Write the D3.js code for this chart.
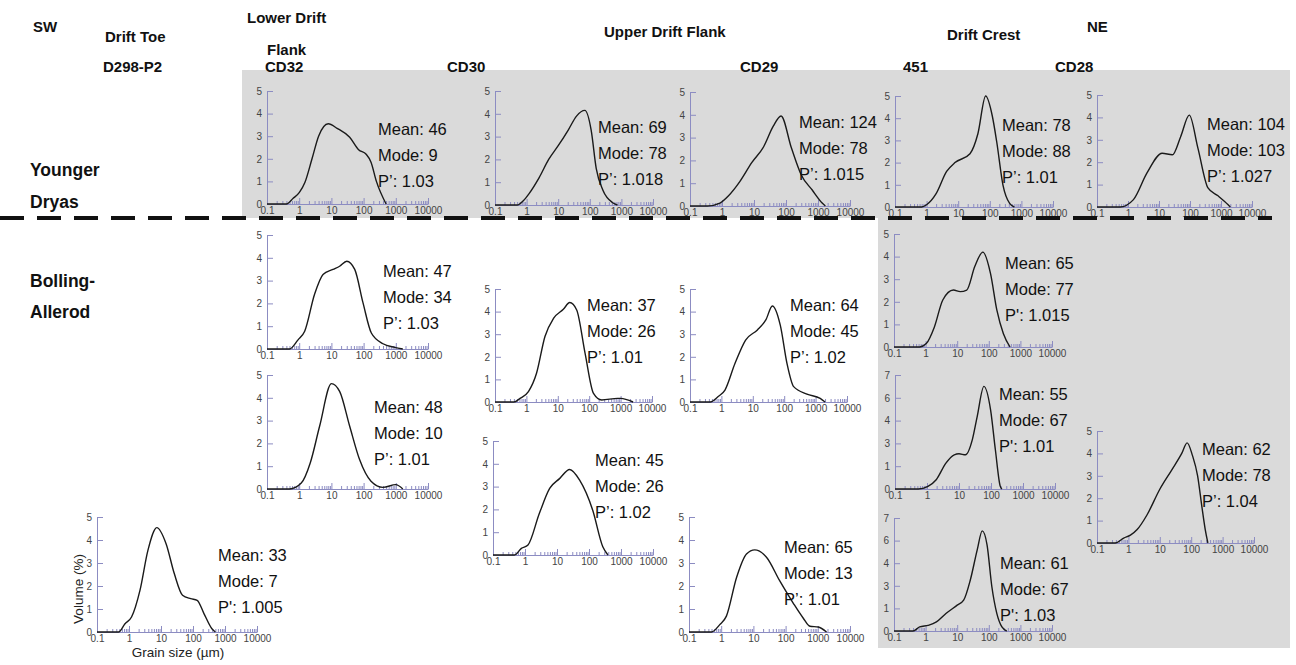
<!DOCTYPE html>
<html>
<head>
<meta charset="utf-8">
<script src="https://cdn.jsdelivr.net/npm/d3@7"></script>
<style>
  body { margin: 0; background: #fff; }
  svg { display: block; font-family: "Liberation Sans", Arial, sans-serif; }
</style>
</head>
<body>
<div id="wrapper"></div>
<script>
// grain size distributions: [grain size (µm), volume (%)]
const ydCD32 = [[0.1,0],[0.4,0],[0.65,0.25],[1,0.5],[1.5,0.95],[2.5,2.0],[4,3.0],[8,3.55],[15,3.35],[37,2.95],[70,2.4],[120,2.2],[170,1.85],[250,1.0],[500,0]];
const ydCD30 = [[0.1,0],[0.5,0],[0.8,0.2],[1.2,0.5],[2.5,1.2],[5,2.0],[10,2.6],[21,3.3],[38,3.9],[70,4.15],[110,3.3],[160,1.6],[260,0.65],[530,0.1],[750,0]];
const ydCD29 = [[0.1,0],[0.35,0],[0.86,0.13],[1.6,0.45],[3.6,1.07],[8.5,1.9],[20,2.6],[40,3.5],[70,3.95],[148,2.54],[300,1.36],[660,0.7],[1350,0.13],[1700,0]];
const yd451  = [[0.1,0],[0.7,0],[1,0.1],[2,0.6],[4.3,1.6],[7.9,2.0],[23.6,2.4],[42,3.3],[74,5.0],[120,4.1],[165,2.95],[260,1.0],[430,0.15],[600,0]];
const ydCD28 = [[0.1,0],[0.55,0],[1.5,0.33],[4.1,1.52],[12.6,2.4],[27,2.33],[50,3.14],[95,4.1],[180,2.63],[380,0.85],[800,0.5],[1700,0.1],[2000,0]];
const baCD32a = [[0.1,0],[0.5,0],[0.92,0.4],[1.48,0.78],[3,2.4],[5.5,3.27],[11.2,3.49],[18,3.63],[30,3.85],[53,3.49],[96,2.02],[174,0.7],[400,0.23],[920,0.07],[1650,0]];
const baCD32b = [[0.1,0],[0.5,0],[1.16,0.26],[2.2,1.14],[4.3,2.75],[10,4.62],[18,4.28],[37,2.75],[75,1.29],[170,0.34],[400,0.07],[1000,0.19],[1650,0]];
const baCD30a = [[0.1,0],[0.4,0],[0.63,0.16],[1.16,0.46],[2.1,1.27],[3.9,2.9],[7.3,3.7],[15,4.1],[24,4.4],[40,4.07],[74,2.15],[137,0.38],[250,0.09],[800,0.16],[1000,0.16],[2500,0]];
const baCD30b = [[0.1,0],[0.47,0],[0.77,0.29],[1.24,0.44],[2.8,1.82],[5.9,2.92],[12,3.35],[25,3.75],[51,3.28],[130,1.97],[270,0.36],[390,0]];
const baCD29a = [[0.1,0],[0.44,0],[0.79,0.24],[1.3,0.53],[2.7,1.7],[5.9,2.74],[14,3.19],[26,3.63],[42,4.25],[75,3.4],[123,1.7],[200,0.68],[530,0.35],[1400,0.16],[2000,0]];
const baCD29b = [[0.1,0],[0.5,0],[0.9,0.32],[1.45,0.69],[3,2.37],[6.1,3.39],[11,3.57],[25.5,3.25],[66,2.22],[170,1.27],[350,0.61],[570,0.25],[1030,0.22],[1870,0]];
const ba451a = [[0.1,0],[0.65,0],[1.05,0.15],[1.9,0.89],[3.5,2.08],[7.6,2.52],[12.5,2.45],[20,2.52],[36,3.56],[65,4.2],[113,3.26],[180,1.63],[290,0.59],[470,0]];
const ba451b = [[0.1,0],[0.53,0],[1.07,0.16],[1.94,0.57],[3.9,1.59],[7.1,2.1],[10,2.16],[16,2.1],[26,3.02],[37,4.45],[60,6.3],[97,4.86],[137,2.41],[195,0.16],[220,0]];
const ba451c = [[0.1,0],[0.4,0],[0.65,0.25],[1.2,0.35],[2.2,0.56],[4.4,1.08],[10,1.6],[16,1.91],[26,3.16],[43,5.03],[62,6.2],[88,5.34],[125,2.74],[180,1.08],[260,0.25],[370,0]];
const baCD28 = [[0.1,0],[0.38,0],[0.71,0.22],[1.16,0.35],[1.9,0.6],[3.9,1.25],[10,2.4],[25,3.3],[50,4.0],[74,4.47],[110,3.9],[160,3.0],[220,1.6],[280,0.6],[340,0]];
const d298 = [[0.1,0],[0.47,0],[0.75,0.36],[1.2,0.65],[2.2,1.81],[3.9,3.55],[7.4,4.54],[14.4,3.84],[26,2.54],[47,1.6],[85,1.45],[135,1.38],[220,0.8],[390,0.14],[500,0]];

// summary statistics, same order as the panels below
const means  = [46, 69, 124, 78, 104, 47, 48, 37, 45, 64, 65, 65, 55, 61, 62, 33];
const modes  = [9, 78, 78, 88, 103, 34, 10, 26, 26, 45, 13, 77, 67, 67, 78, 7];
const pPrime = ["1.03","1.018","1.015","1.01","1.027","1.03","1.01","1.01","1.02","1.02","1.01","1.015","1.01","1.03","1.04","1.005"];
const primeChar = ["’","’","’","’","’","’","’","’","’","’","’","'","'","'","’","'"];

const xTickValues = [0.1, 1, 10, 100, 1000, 10000];
const yMaxes = [5, 5, 5, 5, 5, 5, 5, 5, 5, 5, 5, 5, 7, 7, 5, 5];

const headers = [
  {t:"SW", x:33, y:32}, {t:"Drift Toe", x:105, y:42}, {t:"Lower Drift", x:247, y:23},
  {t:"Flank", x:267, y:55}, {t:"Upper Drift Flank", x:604, y:37}, {t:"Drift Crest", x:947, y:40},
  {t:"NE", x:1087, y:32}, {t:"D298-P2", x:103, y:72}, {t:"CD32", x:265, y:72},
  {t:"CD30", x:447, y:72}, {t:"CD29", x:740, y:72}, {t:"451", x:903, y:72}, {t:"CD28", x:1055, y:72}
];
const rowLabels = [
  {t:"Younger", x:30, y:176}, {t:"Dryas", x:30, y:208},
  {t:"Bolling-", x:30, y:287}, {t:"Allerod", x:30, y:318}
];

// panel frames: axis left, pixel of max, pixel of zero, width of 5 decades, annotation anchor
const panels = [
  {data: ydCD32,  left: 267,  top: 91,  bottom: 204, width: 161, ax: 378,  ay: 129},
  {data: ydCD30,  left: 495,  top: 91,  bottom: 205, width: 158, ax: 598,  ay: 127},
  {data: ydCD29,  left: 690,  top: 92,  bottom: 206, width: 160, ax: 799,  ay: 122},
  {data: yd451,   left: 895,  top: 96,  bottom: 207, width: 158, ax: 1002, ay: 125},
  {data: ydCD28,  left: 1097, top: 95,  bottom: 207, width: 155, ax: 1207, ay: 124},
  {data: baCD32a, left: 267,  top: 235, bottom: 349, width: 161, ax: 383,  ay: 271},
  {data: baCD32b, left: 267,  top: 375, bottom: 489, width: 161, ax: 374,  ay: 407},
  {data: baCD30a, left: 495,  top: 289, bottom: 402, width: 157, ax: 587,  ay: 305},
  {data: baCD30b, left: 493,  top: 441, bottom: 555, width: 160, ax: 595,  ay: 460},
  {data: baCD29a, left: 690,  top: 289, bottom: 402, width: 157, ax: 790,  ay: 305},
  {data: baCD29b, left: 689,  top: 517, bottom: 632, width: 161, ax: 784,  ay: 547},
  {data: ba451a,  left: 894,  top: 234, bottom: 347, width: 158, ax: 1005, ay: 263},
  {data: ba451b,  left: 895,  top: 375, bottom: 489, width: 160, ax: 999,  ay: 394},
  {data: ba451c,  left: 894,  top: 518, bottom: 631, width: 158, ax: 1000, ay: 563},
  {data: baCD28,  left: 1097, top: 431, bottom: 543, width: 157, ax: 1202, ay: 449},
  {data: d298,    left: 97,   top: 517, bottom: 632, width: 160, ax: 218,  ay: 555}
];

const axisColor = "#8c8cc2";
const W = 1296, H = 665;

const svg = d3.select("#wrapper").append("svg")
  .attr("width", W)
  .attr("height", H);

// grey shading behind Younger Dryas row and Drift Crest / NE columns
svg.append("rect").attr("x", 242).attr("y", 70).attr("width", 1048).attr("height", 148).attr("fill", "#dadada");
svg.append("rect").attr("x", 878).attr("y", 216).attr("width", 412).attr("height", 432).attr("fill", "#dadada");

headers.forEach(h => {
  svg.append("text").attr("x", h.x).attr("y", h.y)
    .attr("font-size", 15).attr("font-weight", "bold").attr("fill", "#111")
    .text(h.t);
});
rowLabels.forEach(h => {
  svg.append("text").attr("x", h.x).attr("y", h.y)
    .attr("font-size", 17.5).attr("font-weight", "bold").attr("fill", "#111")
    .text(h.t);
});

function drawPanel(p, i) {
  const g = svg.append("g");
  const xScaler = d3.scaleLog().domain([0.1, 10000]).range([p.left, p.left + p.width]);
  const yScaler = d3.scaleLinear().domain([0, yMaxes[i]]).range([p.bottom, p.top]);

  const minor = xScaler.ticks().filter(v => !xTickValues.some(t => Math.abs(t - v) / t < 1e-6));

  const axMinor = g.append("g")
    .attr("transform", `translate(0, ${p.bottom})`)
    .call(d3.axisBottom(xScaler).tickValues(minor).tickFormat("").tickSizeInner(-3).tickSizeOuter(0));
  axMinor.select(".domain").remove();

  const axX = g.append("g")
    .attr("transform", `translate(0, ${p.bottom})`)
    .call(d3.axisBottom(xScaler).tickValues(xTickValues).tickFormat(d3.format("~g"))
      .tickSizeInner(-6).tickSizeOuter(0).tickPadding(3));

  const yStep = yMaxes[i] === 7 ? 1.4 : 1;
  const axY = g.append("g")
    .attr("transform", `translate(${p.left}, 0)`)
    .call(d3.axisLeft(yScaler).tickValues(d3.range(0, yMaxes[i] + 0.01, yStep))
      .tickFormat(d3.format(".0f")).tickSizeInner(-6).tickSizeOuter(0).tickPadding(5));

  [axMinor, axX, axY].forEach(a => {
    a.selectAll("line").attr("stroke", axisColor);
    a.selectAll(".domain").attr("stroke", axisColor);
    a.selectAll("text").attr("fill", "#444").attr("font-size", 10)
      .attr("font-family", "'Liberation Sans', Arial, sans-serif");
  });

  const line = d3.line()
    .x(d => xScaler(d[0]))
    .y(d => yScaler(d[1]))
    .curve(d3.curveMonotoneX);

  g.append("path")
    .attr("d", line(p.data))
    .attr("fill", "none")
    .attr("stroke", "#1a1a1a")
    .attr("stroke-width", 1.4);

  const lines = [`Mean: ${means[i]}`, `Mode: ${modes[i]}`, `P${primeChar[i]}: ${pPrime[i]}`];
  lines.forEach((t, k) => {
    g.append("text")
      .attr("x", p.ax)
      .attr("y", p.ay + 6 + k * 26)
      .attr("font-size", 16.5)
      .attr("fill", "#111")
      .text(t);
  });
}

panels.forEach(drawPanel);

// axis titles on the Drift Toe panel
svg.append("text")
  .attr("transform", "translate(83, 589) rotate(-90)")
  .attr("text-anchor", "middle")
  .attr("font-size", 13.5).attr("fill", "#222")
  .text("Volume (%)");
svg.append("text")
  .attr("x", 178).attr("y", 657)
  .attr("text-anchor", "middle")
  .attr("font-size", 13.5).attr("fill", "#222")
  .text("Grain size (µm)");

// Younger Dryas / Bolling-Allerod boundary
svg.append("line")
  .attr("x1", 0).attr("x2", 1272)
  .attr("y1", 218).attr("y2", 218)
  .attr("stroke", "#111")
  .attr("stroke-width", 4)
  .attr("stroke-dasharray", "24,13");
</script>
</body>
</html>
